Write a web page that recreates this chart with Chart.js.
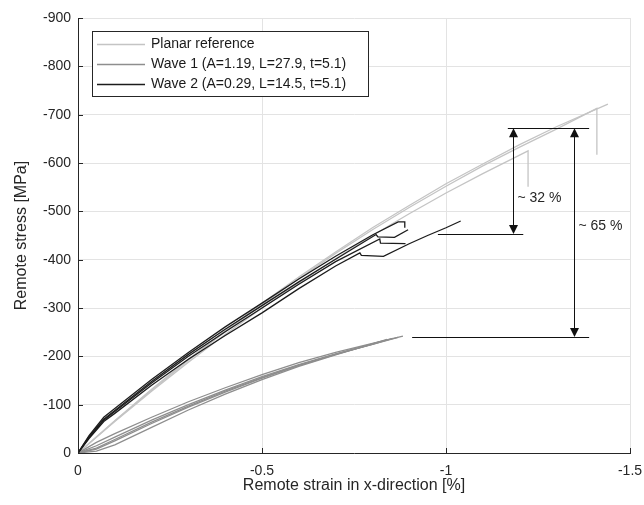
<!DOCTYPE html>
<html>
<head>
<meta charset="utf-8">
<script src="https://cdn.jsdelivr.net/npm/chart.js@4"></script>
<style>
  html, body { margin: 0; padding: 0; background: #fff; }
  #wrap { width: 644px; height: 505px; }
</style>
</head>
<body>
<div id="wrap"><canvas id="stressChart" width="644" height="505"></canvas></div>
<script>
/* ---- test data: remote strain [%] vs remote stress [MPa] ---- */
const PLANAR_1_X = [0, -0.1, -0.2, -0.3, -0.4, -0.5, -0.6, -0.7, -0.8, -0.9, -1.0, -1.1, -1.2, -1.3, -1.44];
const PLANAR_1_Y = [0, -67, -132, -194, -253, -310, -364, -416, -466, -512, -557, -598, -638, -675, -722];
const PLANAR_2_X = [0, -0.1, -0.2, -0.3, -0.4, -0.5, -0.6, -0.7, -0.8, -0.9, -1.0, -1.1, -1.2, -1.3, -1.41, -1.41];
const PLANAR_2_Y = [0, -66, -130, -192, -251, -307, -361, -413, -462, -508, -552, -594, -633, -670, -713, -617];
const PLANAR_3_X = [0, -0.1, -0.2, -0.3, -0.4, -0.5, -0.6, -0.7, -0.8, -0.9, -1.0, -1.1, -1.223, -1.223];
const PLANAR_3_Y = [0, -65, -128, -188, -245, -300, -352, -402, -450, -495, -538, -578, -625, -551];

const WAVE1_1_X = [0, -0.05, -0.1, -0.2, -0.3, -0.4, -0.5, -0.6, -0.7, -0.8, -0.883];
const WAVE1_1_Y = [0, -22, -40, -74, -106, -135, -162, -187, -208, -227, -242];
const WAVE1_2_X = [0, -0.05, -0.1, -0.2, -0.3, -0.4, -0.5, -0.6, -0.7, -0.8, -0.87];
const WAVE1_2_Y = [0, -15, -33, -68, -100, -130, -158, -183, -205, -225, -239];
const WAVE1_3_X = [0, -0.05, -0.1, -0.2, -0.3, -0.4, -0.5, -0.6, -0.7, -0.8, -0.855];
const WAVE1_3_Y = [0, -8, -25, -61, -95, -126, -155, -181, -204, -225, -237];
const WAVE1_4_X = [0, -0.05, -0.1, -0.2, -0.3, -0.4, -0.5, -0.6, -0.7, -0.84];
const WAVE1_4_Y = [0, -4, -17, -53, -89, -122, -152, -179, -203, -235];
const WAVE1_5_X = [0, -0.05, -0.1, -0.2, -0.3, -0.4, -0.5, -0.6, -0.7, -0.82];
const WAVE1_5_Y = [0, -10, -28, -64, -97, -128, -156, -182, -204, -230];

const WAVE2_1_X = [0, -0.03, -0.07, -0.1, -0.2, -0.3, -0.4, -0.5, -0.6, -0.7, -0.8, -0.87, -0.888, -0.888];
const WAVE2_1_Y = [0, -36, -74, -92, -152, -208, -261, -310, -360, -407, -451, -478, -478, -466];
const WAVE2_2_X = [0, -0.03, -0.07, -0.1, -0.2, -0.3, -0.4, -0.5, -0.6, -0.7, -0.81, -0.815, -0.86, -0.897];
const WAVE2_2_Y = [0, -34, -70, -88, -148, -204, -256, -305, -354, -401, -452, -447, -446, -462];
const WAVE2_3_X = [0, -0.03, -0.07, -0.1, -0.2, -0.3, -0.4, -0.5, -0.6, -0.7, -0.82, -0.822, -0.89];
const WAVE2_3_Y = [0, -32, -68, -86, -145, -200, -251, -300, -349, -396, -443, -434, -433];
const WAVE2_4_X = [0, -0.03, -0.07, -0.1, -0.2, -0.3, -0.4, -0.5, -0.6, -0.7, -0.766, -0.77, -0.83, -0.9, -0.95, -1.0, -1.04];
const WAVE2_4_Y = [0, -30, -65, -82, -140, -194, -243, -290, -340, -387, -414, -409, -407, -433, -450, -466, -480];

/* drop annotations */
const BRACKET_LEVEL = [-672, -453, -240];
const BRACKET_FROM = [-1.168, -0.978, -0.908];
const BRACKET_TO = [-1.389, -1.21, -1.389];
const ARROW_X = [-1.182, -1.348];
const ARROW_TOP = [-672, -672];
const ARROW_BOTTOM = [-453, -240];
const ARROW_TEXT = ['~ 32 %', '~ 65 %'];

const LEGEND_LABELS = ['Planar reference', 'Wave 1 (A=1.19, L=27.9, t=5.1)', 'Wave 2 (A=0.29, L=14.5, t=5.1)'];

/* ---- styling ---- */
const FONT = "'Liberation Sans', Arial, sans-serif";
const INK = '#262626';
const COLOR_PLANAR = '#c4c4c4';
const COLOR_WAVE1 = '#8e8e8e';
const COLOR_WAVE2 = '#1c1c1c';
const LEGEND_COLORS = [COLOR_PLANAR, COLOR_WAVE1, COLOR_WAVE2];

function pts(xs, ys) {
  return xs.map((x, i) => ({ x, y: ys[i] }));
}

function series(xs, ys, color, order) {
  return {
    data: pts(xs, ys),
    borderColor: color,
    borderWidth: 1.3,
    pointRadius: 0,
    fill: false,
    tension: 0,
    order
  };
}

const datasets = [
  series(WAVE2_1_X, WAVE2_1_Y, COLOR_WAVE2, 0),
  series(WAVE2_2_X, WAVE2_2_Y, COLOR_WAVE2, 0),
  series(WAVE2_3_X, WAVE2_3_Y, COLOR_WAVE2, 0),
  series(WAVE2_4_X, WAVE2_4_Y, COLOR_WAVE2, 0),
  series(WAVE1_1_X, WAVE1_1_Y, COLOR_WAVE1, 1),
  series(WAVE1_2_X, WAVE1_2_Y, COLOR_WAVE1, 1),
  series(WAVE1_3_X, WAVE1_3_Y, COLOR_WAVE1, 1),
  series(WAVE1_4_X, WAVE1_4_Y, COLOR_WAVE1, 1),
  series(WAVE1_5_X, WAVE1_5_Y, COLOR_WAVE1, 1),
  series(PLANAR_1_X, PLANAR_1_Y, COLOR_PLANAR, 2),
  series(PLANAR_2_X, PLANAR_2_Y, COLOR_PLANAR, 2),
  series(PLANAR_3_X, PLANAR_3_Y, COLOR_PLANAR, 2)
];

/* inward tick marks, drop brackets with arrows, boxed legend */
const extrasPlugin = {
  id: 'extras',
  afterDatasetsDraw(chart) {
    const ctx = chart.ctx;
    const xs = chart.scales.x, ys = chart.scales.y;
    const area = chart.chartArea;
    ctx.save();

    // tick marks pointing into the axes
    ctx.strokeStyle = INK;
    ctx.lineWidth = 1;
    ctx.beginPath();
    xs.ticks.forEach(t => {
      const px = Math.round(xs.getPixelForValue(t.value)) + 0.5;
      ctx.moveTo(px, area.bottom);
      ctx.lineTo(px, area.bottom - 5);
    });
    ys.ticks.forEach(t => {
      const py = Math.round(ys.getPixelForValue(t.value)) + 0.5;
      ctx.moveTo(area.left, py);
      ctx.lineTo(area.left + 5, py);
    });
    ctx.stroke();

    // horizontal reference lines
    ctx.strokeStyle = '#111';
    ctx.beginPath();
    BRACKET_LEVEL.forEach((lv, i) => {
      const py = Math.round(ys.getPixelForValue(lv)) + 0.5;
      ctx.moveTo(xs.getPixelForValue(BRACKET_FROM[i]), py);
      ctx.lineTo(xs.getPixelForValue(BRACKET_TO[i]), py);
    });
    ctx.stroke();

    // double-headed arrows
    const textDy = [17, -6];
    ARROW_X.forEach((v, i) => {
      const px = Math.round(xs.getPixelForValue(v)) + 0.5;
      const top = ys.getPixelForValue(ARROW_TOP[i]);
      const bot = ys.getPixelForValue(ARROW_BOTTOM[i]);
      ctx.fillStyle = '#111';
      ctx.beginPath();
      ctx.moveTo(px, top + 8);
      ctx.lineTo(px, bot - 8);
      ctx.stroke();
      ctx.beginPath();
      ctx.moveTo(px, top);
      ctx.lineTo(px - 4.5, top + 9);
      ctx.lineTo(px + 4.5, top + 9);
      ctx.closePath();
      ctx.fill();
      ctx.beginPath();
      ctx.moveTo(px, bot);
      ctx.lineTo(px - 4.5, bot - 9);
      ctx.lineTo(px + 4.5, bot - 9);
      ctx.closePath();
      ctx.fill();

      ctx.fillStyle = INK;
      ctx.font = '14px ' + FONT;
      ctx.textAlign = 'left';
      ctx.textBaseline = 'middle';
      ctx.fillText(ARROW_TEXT[i], px + 4, (top + bot) / 2 + textDy[i]);
    });

    // legend box
    const bx = 92.5, by = 31.5, bw = 276, bh = 65;
    ctx.fillStyle = '#fff';
    ctx.fillRect(bx, by, bw, bh);
    ctx.strokeStyle = INK;
    ctx.lineWidth = 1;
    ctx.strokeRect(bx, by, bw, bh);
    ctx.font = '14px ' + FONT;
    ctx.textBaseline = 'middle';
    LEGEND_LABELS.forEach((label, i) => {
      const ly = 44.5 + i * 20;
      ctx.strokeStyle = LEGEND_COLORS[i];
      ctx.lineWidth = 1.3;
      ctx.beginPath();
      ctx.moveTo(97, ly);
      ctx.lineTo(145, ly);
      ctx.stroke();
      ctx.fillStyle = '#1a1a1a';
      ctx.fillText(label, 151, ly);
    });

    ctx.restore();
  }
};

new Chart(document.getElementById('stressChart'), {
  type: 'line',
  data: { datasets },
  options: {
    responsive: false,
    animation: false,
    layout: { padding: { top: 18, right: 14, left: 0, bottom: 0 } },
    plugins: { legend: { display: false }, tooltip: { enabled: false } },
    scales: {
      x: {
        type: 'linear',
        min: -1.5,
        max: 0,
        reverse: true,
        afterFit: s => { s.height = 52; s.paddingLeft = 0; s.paddingRight = 0; },
        grid: { color: '#e3e3e3', drawTicks: false },
        border: { color: INK, width: 1 },
        ticks: {
          stepSize: 0.5,
          padding: 10,
          color: INK,
          font: { family: FONT, size: 14 },
          callback: v => String(v)
        },
        title: {
          display: true,
          text: 'Remote strain in x-direction [%]',
          color: INK,
          font: { family: FONT, size: 16 },
          padding: { top: 2, bottom: 10 }
        }
      },
      y: {
        type: 'linear',
        min: -900,
        max: 0,
        reverse: true,
        afterFit: s => { s.width = 78; },
        grid: { color: '#e3e3e3', drawTicks: false },
        border: { color: INK, width: 1 },
        ticks: {
          stepSize: 100,
          padding: 7,
          color: INK,
          font: { family: FONT, size: 14 },
          callback: v => String(v)
        },
        title: {
          display: true,
          text: 'Remote stress [MPa]',
          color: INK,
          font: { family: FONT, size: 16 },
          padding: { top: 12, bottom: 4 }
        }
      }
    }
  },
  plugins: [extrasPlugin]
});
</script>
</body>
</html>
